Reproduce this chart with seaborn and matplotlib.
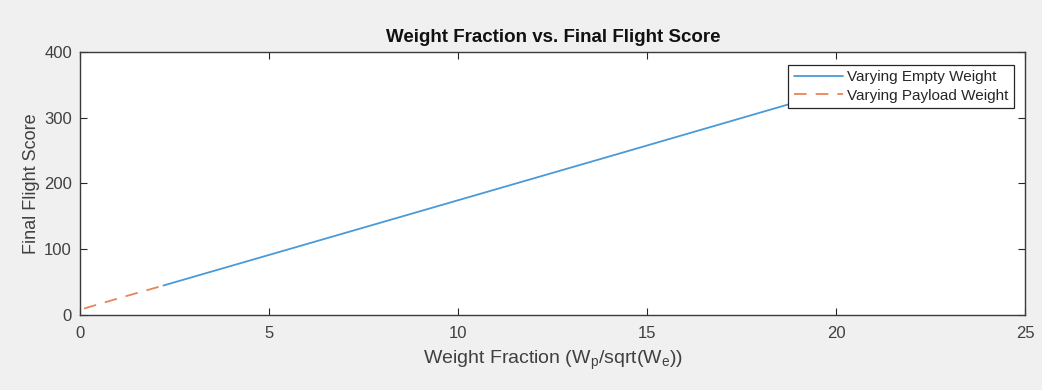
import matplotlib
matplotlib.use("Agg")
import matplotlib.pyplot as plt
import seaborn as sns
import pandas as pd

# Data
empty_x = [2.2, 9.0, 14.29, 19.5]
empty_y = [45, 158, 246, 333]
payload_x = [0.1, 1.1, 2.2]
payload_y = [10, 27, 45]

series_names = ["Varying Empty Weight", "Varying Payload Weight"]
x_ticks = [0, 5, 10, 15, 20, 25]
y_ticks = [0, 100, 200, 300, 400]

df = pd.concat([
    pd.DataFrame({"x": empty_x, "y": empty_y, "s": series_names[0]}),
    pd.DataFrame({"x": payload_x, "y": payload_y, "s": series_names[1]}),
], ignore_index=True)

sns.set_style("ticks")
plt.rcParams["font.family"] = ["Liberation Sans", "DejaVu Sans"]

fig = plt.figure(figsize=(10.42, 3.9), dpi=100)
fig.patch.set_facecolor("#f0f0f0")
ax = fig.add_axes([0.077, 0.192, 0.907, 0.675])
ax.set_facecolor("white")

blue, orange = "#4a9ad8", "#e8845a"
sns.lineplot(data=df, x="x", y="y", hue="s", style="s",
             palette={series_names[0]: blue, series_names[1]: orange},
             dashes={series_names[0]: "", series_names[1]: (7, 5)},
             linewidth=1.3, ax=ax, sort=False, estimator=None)

ax.set_xlim(0, 25)
ax.set_ylim(0, 400)
ax.set_xticks(x_ticks)
ax.set_yticks(y_ticks)
ax.tick_params(direction="in", top=True, right=True, length=5, width=0.8,
               colors="#262626", labelsize=12, labelcolor="#404040")
ax.tick_params(axis="x", pad=8)
ax.tick_params(axis="y", pad=6)
for sp in ax.spines.values():
    sp.set_visible(True)
    sp.set_color("#3a3a3a")
    sp.set_linewidth(1.0)

ax.set_title("Weight Fraction vs. Final Flight Score", fontsize=13.5,
             fontweight="bold", color="#111111", pad=7)
ax.set_xlabel("Weight Fraction (W$_\\mathregular{p}$/sqrt(W$_\\mathregular{e}$))",
              fontsize=14, color="#404040", labelpad=5)
ax.set_ylabel("Final Flight Score", fontsize=13, color="#404040", labelpad=3)

handles, labels = ax.get_legend_handles_labels()
leg = ax.legend(handles, labels, loc="upper right", bbox_to_anchor=(0.988, 0.951),
                borderaxespad=0, fontsize=11, frameon=True, fancybox=False,
                framealpha=1, edgecolor="#262626", borderpad=0.35,
                handlelength=3.2, labelspacing=0.3, handletextpad=0.3)
leg.get_frame().set_linewidth(0.9)
for h, c in zip(leg.get_lines(), [blue, orange]):
    h.set_color(c)
for t in leg.get_texts():
    t.set_color("#262626")

fig.savefig("out.png", dpi=100, facecolor=fig.get_facecolor())
